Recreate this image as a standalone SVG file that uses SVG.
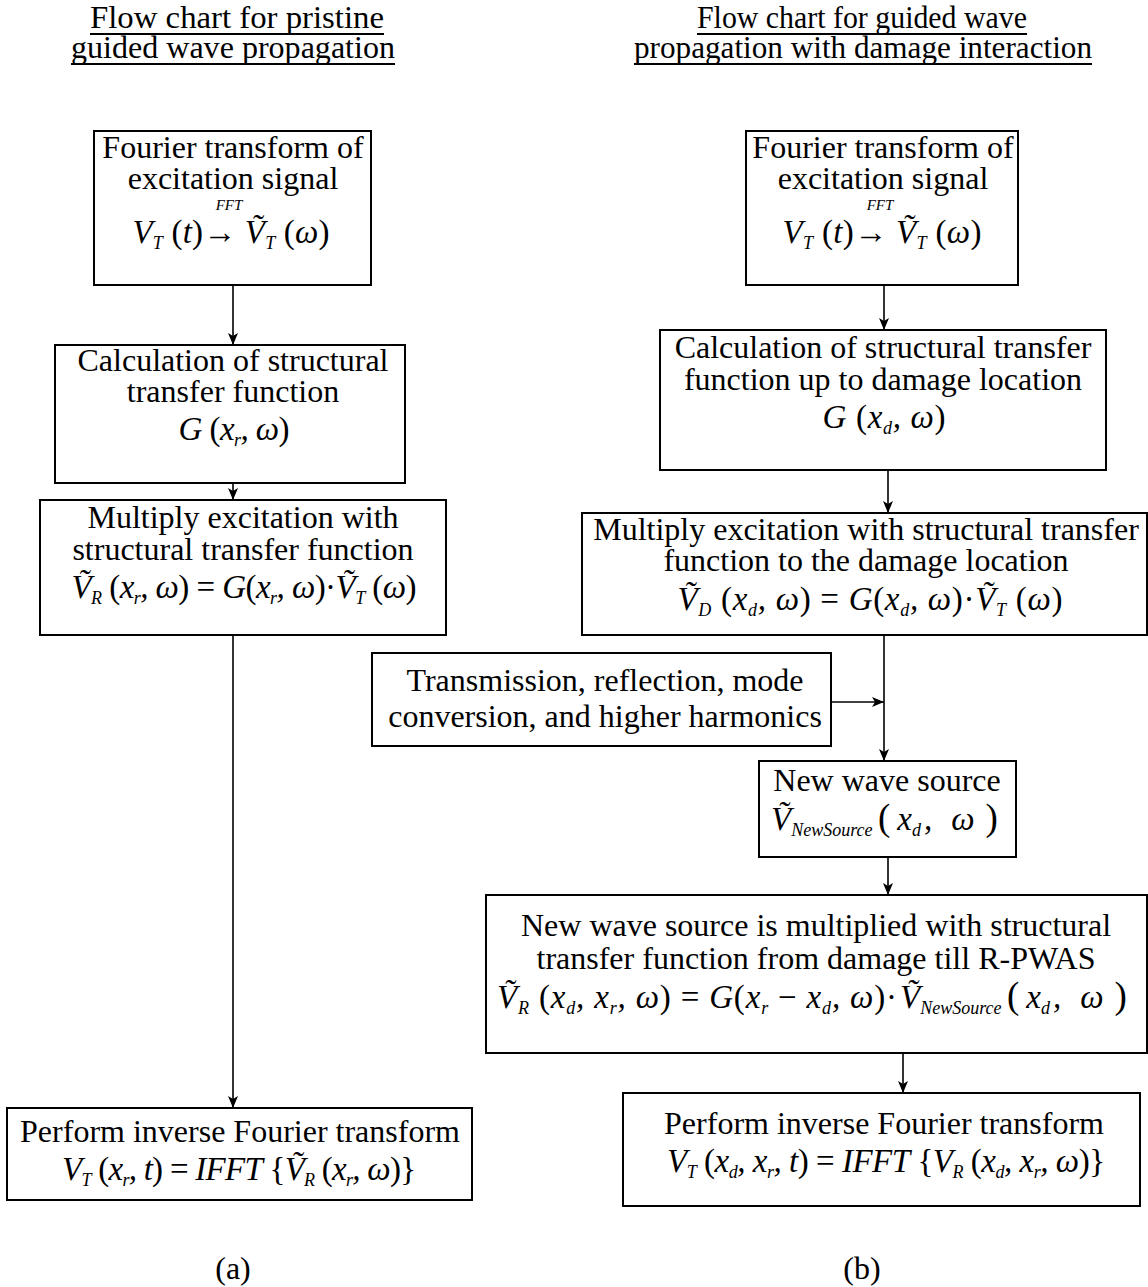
<svg xmlns="http://www.w3.org/2000/svg" width="1148" height="1287" viewBox="0 0 1148 1287">
<defs>
<marker id="ah" viewBox="0 0 12 10" refX="12" refY="5" markerWidth="12" markerHeight="10" markerUnits="userSpaceOnUse" orient="auto">
<path d="M0,0 L12,5 L0,10 L3,5 Z" fill="#000"/>
</marker>
<style>
.box{fill:#fff;stroke:#000;stroke-width:2}
.t{font-family:"Liberation Serif","Times New Roman",serif;font-size:32px;text-anchor:middle;fill:#000}
.h{font-size:31px}
.m{font-family:"Liberation Serif","Times New Roman",serif;font-size:33px;font-style:italic;text-anchor:middle;fill:#000}
.st{text-anchor:start}
.s{font-size:18px}
.p{font-style:normal;font-weight:normal}
.pr{font-style:normal;font-size:37px}
.fft{font-family:"Liberation Serif","Times New Roman",serif;font-size:15px;font-style:italic;text-anchor:middle}
.ln{fill:none;stroke:#000;stroke-width:1.6}
.ul{stroke:#000;stroke-width:1.8}
</style>
</defs>

<g id="titles">
<text class="t h" x="237" y="28" textLength="294" lengthAdjust="spacingAndGlyphs">Flow chart for pristine</text>
<line class="ul" x1="90" y1="34" x2="384" y2="34"/>
<text class="t h" x="233" y="58" textLength="324" lengthAdjust="spacingAndGlyphs">guided wave propagation</text>
<line class="ul" x1="71" y1="64" x2="395" y2="64"/>
<text class="t h" x="862" y="28" textLength="330" lengthAdjust="spacingAndGlyphs">Flow chart for guided wave</text>
<line class="ul" x1="697" y1="34" x2="1027" y2="34"/>
<text class="t h" x="863" y="58" textLength="458" lengthAdjust="spacingAndGlyphs">propagation with damage interaction</text>
<line class="ul" x1="634" y1="64" x2="1092" y2="64"/>
<text class="t" x="233" y="1279" font-size="28">(a)</text>
<text class="t" x="862" y="1279" font-size="28">(b)</text>
</g>

<g id="connectors">
<line class="ln" x1="233" y1="286" x2="233" y2="345" marker-end="url(#ah)"/>
<line class="ln" x1="233" y1="483" x2="233" y2="500" marker-end="url(#ah)"/>
<line class="ln" x1="233" y1="635" x2="233" y2="1108" marker-end="url(#ah)"/>
<line class="ln" x1="884" y1="286" x2="884" y2="330" marker-end="url(#ah)"/>
<line class="ln" x1="888" y1="470" x2="888" y2="513" marker-end="url(#ah)"/>
<line class="ln" x1="884" y1="635" x2="884" y2="761" marker-end="url(#ah)"/>
<line class="ln" x1="831" y1="702" x2="884" y2="702" marker-end="url(#ah)"/>
<line class="ln" x1="888" y1="857" x2="888" y2="895" marker-end="url(#ah)"/>
<line class="ln" x1="903" y1="1053" x2="903" y2="1093" marker-end="url(#ah)"/>
</g>

<g id="a1">
<rect class="box" x="94" y="131" width="277" height="154"/>
<text class="t" x="233" y="158">Fourier transform of</text>
<text class="t" x="233" y="189">excitation signal</text>
<text class="fft" x="229" y="210">FFT</text>
<text class="m" x="231" y="243" textLength="197" lengthAdjust="spacing">V<tspan class="s" dy="6">T</tspan><tspan class="p" dy="-6"> (</tspan>t<tspan class="p">)</tspan>→ Ṽ<tspan class="s" dy="6">T</tspan><tspan class="p" dy="-6"> (</tspan>ω<tspan class="p">)</tspan></text>
</g>

<g id="a2">
<rect class="box" x="55" y="345" width="350" height="138"/>
<text class="t" x="233" y="371">Calculation of structural</text>
<text class="t" x="233" y="402">transfer function</text>
<text class="m" x="234" y="440" textLength="111" lengthAdjust="spacing">G<tspan class="p"> (</tspan>x<tspan class="s" dy="6">r</tspan><tspan dy="-6">, ω</tspan><tspan class="p">)</tspan></text>
</g>

<g id="a3">
<rect class="box" x="40" y="500" width="406" height="135"/>
<text class="t" x="243" y="528">Multiply excitation with</text>
<text class="t" x="243" y="560">structural transfer function</text>
<text class="m" x="244" y="598" textLength="345" lengthAdjust="spacing">Ṽ<tspan class="s" dy="6">R</tspan><tspan class="p" dy="-6"> (</tspan>x<tspan class="s" dy="6">r</tspan><tspan dy="-6">, ω</tspan><tspan class="p">) = </tspan>G<tspan class="p">(</tspan>x<tspan class="s" dy="6">r</tspan><tspan dy="-6">, ω</tspan><tspan class="p">)·</tspan>Ṽ<tspan class="s" dy="6">T</tspan><tspan class="p" dy="-6"> (</tspan>ω<tspan class="p">)</tspan></text>
</g>

<g id="a4">
<rect class="box" x="7" y="1108" width="465" height="92"/>
<text class="t" x="240" y="1142">Perform inverse Fourier transform</text>
<text class="m" x="239" y="1180" textLength="354" lengthAdjust="spacing">V<tspan class="s" dy="6">T</tspan><tspan class="p" dy="-6"> (</tspan>x<tspan class="s" dy="6">r</tspan><tspan dy="-6">, t</tspan><tspan class="p">) = </tspan>IFFT<tspan class="p"> {</tspan>Ṽ<tspan class="s" dy="6">R</tspan><tspan class="p" dy="-6"> (</tspan>x<tspan class="s" dy="6">r</tspan><tspan dy="-6">, ω</tspan><tspan class="p">)}</tspan></text>
</g>

<g id="b1">
<rect class="box" x="746" y="131" width="272" height="154"/>
<text class="t" x="883" y="158">Fourier transform of</text>
<text class="t" x="883" y="189">excitation signal</text>
<text class="fft" x="880" y="210">FFT</text>
<text class="m" x="882" y="243" textLength="199" lengthAdjust="spacing">V<tspan class="s" dy="6">T</tspan><tspan class="p" dy="-6"> (</tspan>t<tspan class="p">)</tspan>→ Ṽ<tspan class="s" dy="6">T</tspan><tspan class="p" dy="-6"> (</tspan>ω<tspan class="p">)</tspan></text>
</g>

<g id="b2">
<rect class="box" x="660" y="330" width="446" height="140"/>
<text class="t" x="883" y="358">Calculation of structural transfer</text>
<text class="t" x="883" y="390">function up to damage location</text>
<text class="m" x="884" y="428" textLength="123" lengthAdjust="spacing">G<tspan class="p"> (</tspan>x<tspan class="s" dy="6">d</tspan><tspan dy="-6">, ω</tspan><tspan class="p">)</tspan></text>
</g>

<g id="b3">
<rect class="box" x="582" y="513" width="565" height="122"/>
<text class="t" x="866" y="540">Multiply excitation with structural transfer</text>
<text class="t" x="866" y="571">function to the damage location</text>
<text class="m" x="870" y="610" textLength="385" lengthAdjust="spacing">Ṽ<tspan class="s" dy="6">D</tspan><tspan class="p" dy="-6"> (</tspan>x<tspan class="s" dy="6">d</tspan><tspan dy="-6">, ω</tspan><tspan class="p">) = </tspan>G<tspan class="p">(</tspan>x<tspan class="s" dy="6">d</tspan><tspan dy="-6">, ω</tspan><tspan class="p">)·</tspan>Ṽ<tspan class="s" dy="6">T</tspan><tspan class="p" dy="-6"> (</tspan>ω<tspan class="p">)</tspan></text>
</g>

<g id="b4">
<rect class="box" x="372" y="653" width="459" height="93"/>
<text class="t" x="605" y="691">Transmission, reflection, mode</text>
<text class="t" x="605" y="727">conversion, and higher harmonics</text>
</g>

<g id="b5">
<rect class="box" x="759" y="761" width="257" height="96"/>
<text class="t" x="887" y="791">New wave source</text>
<text class="m st" x="771" y="830">Ṽ<tspan class="s" dy="6">NewSource</tspan></text>
<text class="m st" x="878" y="830"><tspan class="pr">(</tspan><tspan dx="7">x</tspan><tspan class="s" dy="6">d</tspan><tspan dy="-6" dx="3">,</tspan><tspan dx="19">ω</tspan><tspan class="pr" dx="11">)</tspan></text>
</g>

<g id="b6">
<rect class="box" x="486" y="895" width="661" height="158"/>
<text class="t" x="816" y="936">New wave source is multiplied with structural</text>
<text class="t" x="816" y="969">transfer function from damage till R-PWAS</text>
<text class="m st" x="497" y="1008" textLength="400" lengthAdjust="spacing">Ṽ<tspan class="s" dy="6">R</tspan><tspan class="p" dy="-6"> (</tspan>x<tspan class="s" dy="6">d</tspan><tspan dy="-6">, x</tspan><tspan class="s" dy="6">r</tspan><tspan dy="-6">, ω</tspan><tspan class="p">) = </tspan>G<tspan class="p">(</tspan>x<tspan class="s" dy="6">r</tspan><tspan class="p" dy="-6"> − </tspan>x<tspan class="s" dy="6">d</tspan><tspan dy="-6">, ω</tspan><tspan class="p">)·</tspan></text>
<text class="m st" x="900" y="1008">Ṽ<tspan class="s" dy="6">NewSource</tspan></text>
<text class="m st" x="1007" y="1008"><tspan class="pr">(</tspan><tspan dx="7">x</tspan><tspan class="s" dy="6">d</tspan><tspan dy="-6" dx="3">,</tspan><tspan dx="19">ω</tspan><tspan class="pr" dx="11">)</tspan></text>
</g>

<g id="b7">
<rect class="box" x="623" y="1093" width="517" height="113"/>
<text class="t" x="884" y="1134">Perform inverse Fourier transform</text>
<text class="m" x="886" y="1172" textLength="438" lengthAdjust="spacing">V<tspan class="s" dy="6">T</tspan><tspan class="p" dy="-6"> (</tspan>x<tspan class="s" dy="6">d</tspan><tspan dy="-6">, x</tspan><tspan class="s" dy="6">r</tspan><tspan dy="-6">, t</tspan><tspan class="p">) = </tspan>IFFT<tspan class="p"> {</tspan>V<tspan class="s" dy="6">R</tspan><tspan class="p" dy="-6"> (</tspan>x<tspan class="s" dy="6">d</tspan><tspan dy="-6">, x</tspan><tspan class="s" dy="6">r</tspan><tspan dy="-6">, ω</tspan><tspan class="p">)}</tspan></text>
</g>
</svg>
